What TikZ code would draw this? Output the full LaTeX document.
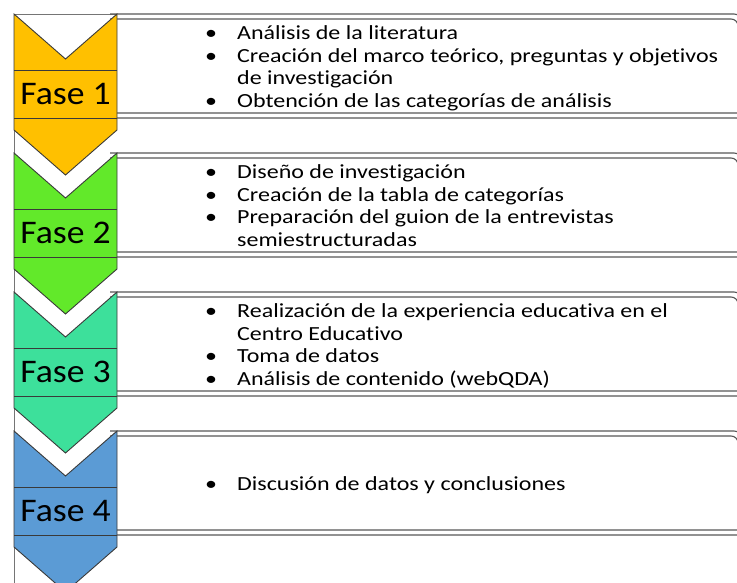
\documentclass[tikz,border=0pt]{standalone}
\usepackage{fontspec}
\setmainfont{Carlito}[Ligatures=NoCommon]
\newfontfamily\fasefont[FakeStretch=1.08,Ligatures=NoCommon]{Carlito}
\newfontfamily\itemfont[FakeStretch=1.2,Ligatures=NoCommon]{Carlito}
\definecolor{cOrange}{HTML}{FFC000}
\definecolor{cGreen}{HTML}{62E92A}
\definecolor{cTeal}{HTML}{3DE09B}
\definecolor{cBlue}{HTML}{5B9BD5}
\definecolor{cLine}{HTML}{3A3A3A}
\newcommand{\bl}{\textbullet}
\begin{document}
\begin{tikzpicture}[x=1pt,y=-1pt,
  chev/.style={draw=cLine, line width=0.9pt, line join=miter},
  band/.style={draw=cLine, line width=0.8pt},
  boxline/.style={draw=cLine!85, line width=1.1pt},
  fase/.style={font=\fasefont\fontsize{33}{38}\selectfont, inner sep=0pt},
  items/.style={font=\itemfont\fontsize{20}{22.5}\selectfont, inner sep=0pt, anchor=west, align=left}]
\useasboundingbox (0,0) rectangle (737,583);
\begin{scope}
\clip (0,0) rectangle (737,583);
% frame lines
\draw[cLine!70, line width=0.8pt] (14,583) -- (14,14) -- (117,14);
\foreach \yo/\col/\n in {14/cOrange/1, 153/cGreen/2, 292/cTeal/3, 431/cBlue/4}{
  \draw[boxline] (110,\yo) -- (734,\yo) arc[start angle=90,end angle=0,radius=8pt] -- (742,\yo+104) -- (110,\yo+104);
  \draw[boxline] (110,\yo+5) -- (731,\yo+5) arc[start angle=90,end angle=0,radius=7pt] -- (738,\yo+99) -- (110,\yo+99);
  \path[chev, fill=\col] (14,\yo) -- (65.5,\yo+45) -- (117,\yo) -- (117,\yo+116) -- (65.5,\yo+161) -- (14,\yo+116) -- cycle;
  \draw[band] (14,\yo+56) -- (117,\yo+56);
  \draw[band] (14,\yo+104) -- (117,\yo+104);
  \node[fase] (f\n) at (65.5,\yo+80) {Fase \n};
}
\end{scope}
\node[items] (t1) at (205,69) {\begin{tabular}{@{}p{32pt}@{}l@{}}
\bl & Análisis de la literatura\\
\bl & Creación del marco teórico, preguntas y objetivos\\
 & de investigación\\
\bl & Obtención de las categorías de análisis
\end{tabular}};
\node[items] (t2) at (205,208) {\begin{tabular}{@{}p{32pt}@{}l@{}}
\bl & Diseño de investigación\\
\bl & Creación de la tabla de categorías\\
\bl & Preparación del guion de la entrevistas\\
 & semiestructuradas
\end{tabular}};
\node[items] (t3) at (205,347) {\begin{tabular}{@{}p{32pt}@{}l@{}}
\bl & Realización de la experiencia educativa en el\\
 & Centro Educativo\\
\bl & Toma de datos\\
\bl & Análisis de contenido (webQDA)
\end{tabular}};
\node[items] (t4) at (205,485.5) {\begin{tabular}{@{}p{32pt}@{}l@{}}
\bl & Discusión de datos y conclusiones
\end{tabular}};
\end{tikzpicture}
\end{document}
